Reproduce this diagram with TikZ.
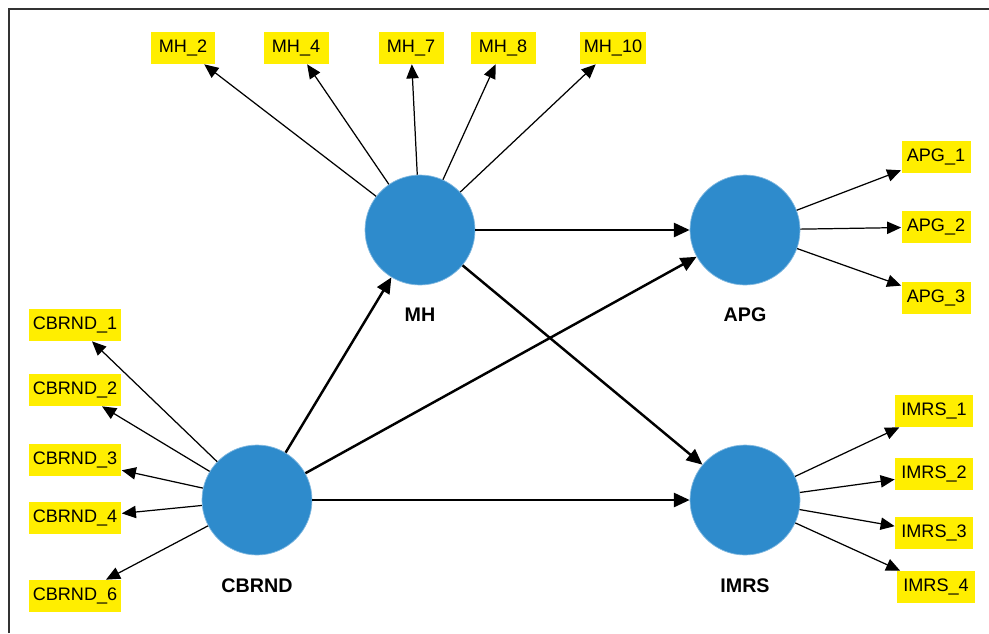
\documentclass[tikz,border=0pt]{standalone}
\usepackage{fontspec}
\setmainfont{Liberation Sans}
\usetikzlibrary{arrows.meta}
\definecolor{lvblue}{RGB}{46,139,204}
\definecolor{indyellow}{RGB}{255,238,0}

\begin{document}
\begin{tikzpicture}[x=0.02cm, y=-0.02cm,
  latent/.style={circle, fill=lvblue, draw=lvblue!60!white, thin, minimum size=2.2cm, inner sep=0pt},
  lvname/.style={font=\fontsize{11.2}{13}\selectfont\bfseries, inner sep=0pt},
  ind/.style={fill=indyellow, inner xsep=2pt, inner ysep=0pt, minimum height=0.64cm, minimum width=#1, font=\fontsize{10.3}{12}\selectfont},
  ind/.default=1.3cm,
  load/.style={-{Triangle[length=8pt, width=7pt]}, line width=0.7pt},
  pfad/.style={-{Triangle[length=9pt, width=8pt]}, line width=1.4pt}]
\useasboundingbox (0,0) rectangle (989,633);

% Rahmen
\draw[line width=0.9pt, draw=black!80] (9,633) -- (9,9) -- (989,9);

% Konstrukte
\node[latent] (MH) at (420,230) {};
\node[latent] (APG) at (745,230) {};
\node[latent] (IMRS) at (745,500) {};
\node[latent] (CBRND) at (257,500) {};
\node[lvname] (MHlab) at (420,315) {MH};
\node[lvname] (APGlab) at (745,315) {APG};
\node[lvname] (IMRSlab) at (745,586) {IMRS};
\node[lvname] (CBRNDlab) at (257,586) {CBRND};

% Indikatoren MH
\node[ind] (MH2) at (183,48) {MH\_2};
\node[ind] (MH4) at (296,48) {MH\_4};
\node[ind] (MH7) at (411,48) {MH\_7};
\node[ind] (MH8) at (503,48) {MH\_8};
\node[ind] (MH10) at (613,48) {MH\_10};

% Indikatoren APG
\node[ind=1.38cm] (APG1) at (936,157) {APG\_1};
\node[ind=1.38cm] (APG2) at (936,227) {APG\_2};
\node[ind=1.38cm] (APG3) at (936,298) {APG\_3};

% Indikatoren IMRS
\node[ind=1.56cm] (IMRS1) at (934,411) {IMRS\_1};
\node[ind=1.56cm] (IMRS2) at (934,474) {IMRS\_2};
\node[ind=1.56cm] (IMRS3) at (934,533) {IMRS\_3};
\node[ind=1.56cm] (IMRS4) at (936,587) {IMRS\_4};

% Indikatoren CBRND
\node[ind=1.86cm] (CBRND1) at (75,325) {CBRND\_1};
\node[ind=1.86cm] (CBRND2) at (75,390) {CBRND\_2};
\node[ind=1.86cm] (CBRND3) at (75,460) {CBRND\_3};
\node[ind=1.86cm] (CBRND4) at (75,518) {CBRND\_4};
\node[ind=1.86cm] (CBRND6) at (75,596) {CBRND\_6};

% Ladungen
\draw[load] (MH) -- (MH2);
\draw[load] (MH) -- (MH4);
\draw[load] (MH) -- (MH7);
\draw[load] (MH) -- (MH8);
\draw[load] (MH) -- (MH10);
\draw[load] (APG) -- (APG1);
\draw[load] (APG) -- (APG2);
\draw[load] (APG) -- (APG3);
\draw[load] (IMRS) -- (IMRS1);
\draw[load] (IMRS) -- (IMRS2);
\draw[load] (IMRS) -- (IMRS3);
\draw[load] (IMRS) -- (IMRS4);
\draw[load] (CBRND) -- (CBRND1);
\draw[load] (CBRND) -- (CBRND2);
\draw[load] (CBRND) -- (CBRND3);
\draw[load] (CBRND) -- (CBRND4);
\draw[load] (CBRND) -- (CBRND6);

% Pfade
\draw[pfad] (MH) -- (APG);
\draw[pfad] (MH) -- (IMRS);
\draw[pfad] (CBRND) -- (MH);
\draw[pfad] (CBRND) -- (APG);
\draw[pfad] (CBRND) -- (IMRS);
\end{tikzpicture}
\end{document}
